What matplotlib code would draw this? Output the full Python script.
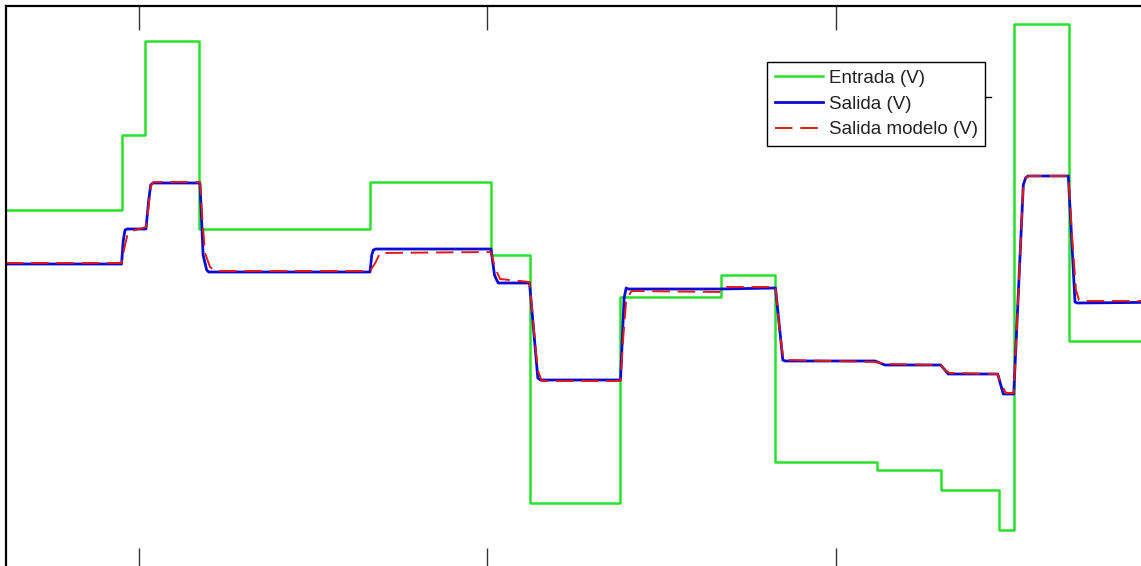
import numpy as np
import matplotlib.pyplot as plt
from matplotlib.lines import Line2D

# step test: input voltage, measured output and identified model output
t_in = [30.9, 47.5, 50.86, 58.65, 83.14, 100.5, 106.03, 119.08, 133.53,
        141.32, 155.88, 165.06, 173.39, 175.58, 183.36, 200.0]
v_in = [2.90, 3.65, 4.59, 2.71, 3.18, 2.45, -0.03, 2.03, 2.25,
        0.38, 0.30, 0.10, -0.30, 4.76, 1.59, 1.59]

t_out = [30.9, 47.5, 47.75, 48.0, 48.3, 51.0, 51.4, 51.68, 52.0, 58.75, 59.2,
         59.71, 60.0, 83.14, 83.4, 83.62, 84.0, 100.5, 101.0, 101.32, 101.55,
         106.03, 107.22, 107.6, 119.08, 119.6, 119.9, 120.2, 133.5, 141.32,
         142.37, 142.7, 155.6, 157.03, 165.02, 166.11, 173.2, 174.0, 175.5,
         176.87, 177.2, 177.55, 183.33, 184.29, 184.6, 200.0]
v_out = [2.36, 2.36, 2.60, 2.70, 2.71, 2.71, 3.00, 3.15, 3.17, 3.17, 2.45,
         2.30, 2.28, 2.28, 2.45, 2.50, 2.51, 2.51, 2.25, 2.20, 2.17,
         2.17, 1.22, 1.20, 1.20, 2.02, 2.12, 2.11, 2.11, 2.12,
         1.40, 1.39, 1.39, 1.35, 1.35, 1.26, 1.26, 1.06, 1.06,
         3.15, 3.22, 3.24, 3.24, 1.98, 1.97, 1.98]

t_mod = [30.9, 47.5, 47.9, 48.3, 49.0, 51.0, 51.4, 51.7, 52.1, 58.75, 59.1,
         59.47, 60.19, 60.9, 83.14, 83.9, 84.58, 100.5, 101.1, 101.8, 106.03,
         106.6, 107.2, 107.8, 119.08, 119.5, 119.9, 120.66, 133.53, 134.3,
         141.32, 141.9, 142.4, 143.0, 155.6, 156.4, 157.2, 165.02, 165.6,
         166.3, 173.2, 173.6, 174.0, 174.4, 175.5, 176.87, 177.3, 177.7,
         183.33, 183.9, 184.43, 184.86, 185.3, 200.0]
v_mod = [2.37, 2.37, 2.52, 2.64, 2.69, 2.73, 2.95, 3.14, 3.18, 3.18, 2.80,
         2.47, 2.33, 2.29, 2.29, 2.37, 2.47, 2.48, 2.32, 2.21, 2.18,
         1.75, 1.30, 1.19, 1.19, 1.65, 2.00, 2.09, 2.08, 2.13,
         2.13, 1.70, 1.43, 1.40, 1.38, 1.37, 1.36, 1.35, 1.30,
         1.27, 1.26, 1.17, 1.12, 1.07, 1.07, 3.12, 3.22, 3.24,
         3.24, 2.60, 2.10, 2.00, 1.99, 1.99]

fig = plt.figure(figsize=(11.41, 5.66), dpi=100)
ax = fig.add_axes([6/1141, -0.0106, 1178.5/1141, 1.0])

ax.step(t_in, v_in, where="post", color="#2ae02a", lw=1.8, label="Entrada (V)")
ax.plot(t_out, v_out, color="#0a0ad2", lw=2.0, label="Salida (V)")
ax.plot(t_mod, v_mod, color="#e01818", lw=1.4, dashes=(9, 4), label="Salida modelo (V)")

ax.set_xlim(30.92, 200)
ax.set_ylim(-0.72, 4.94)
ax.set_xticks([50, 100, 150])
ax.set_yticks([])
ax.tick_params(axis="x", direction="in", length=17.3, width=1.0, color="#333333",
               top=True, bottom=True, labelbottom=False, labeltop=False)
for s in ax.spines.values():
    s.set_linewidth(1.6)
    s.set_color("black")

leg = ax.legend(loc="upper left", bbox_to_anchor=(767/1141, 1 - 62/566),
                bbox_transform=fig.transFigure, borderaxespad=0,
                prop={"family": "Liberation Sans", "size": 13.5},
                handlelength=2.6, handletextpad=0.3, borderpad=0.4,
                labelspacing=0.47, fancybox=False, framealpha=1)
leg.get_frame().set_edgecolor("black")
leg.get_frame().set_linewidth(1.0)
for txt in leg.get_texts():
    txt.set_color("#222222")

# short tick sticking out of the legend's right edge
fig.add_artist(Line2D([985/1141, 991/1141], [1 - 97/566, 1 - 97/566],
                      transform=fig.transFigure, color="black", lw=1.0))

fig.savefig("out.png", dpi=100)
